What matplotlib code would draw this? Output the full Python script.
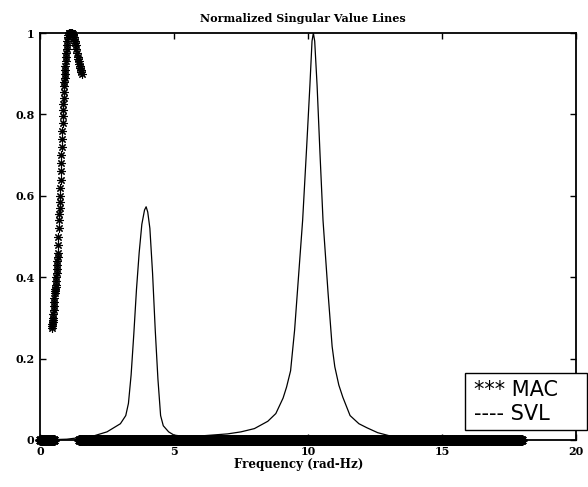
import numpy as np
import matplotlib
matplotlib.use('Agg')
import matplotlib.pyplot as plt

# SVL curve (frequency, normalized value)
svl_freq = [0.0, 1.0, 2.0, 2.5, 3.0, 3.2, 3.3, 3.4, 3.5, 3.6, 3.7, 3.8, 3.9, 3.96,
            4.02, 4.1, 4.2, 4.3, 4.4, 4.5, 4.6, 4.8, 5.0, 5.5, 6.0, 7.0, 7.5, 8.0,
            8.5, 8.8, 9.07, 9.2, 9.35, 9.5, 9.6, 9.8, 9.95, 10.07, 10.15, 10.2,
            10.25, 10.34, 10.45, 10.56, 10.75, 10.9, 11.0, 11.15, 11.3, 11.57,
            11.9, 12.2, 12.6, 13.06, 14.0, 18.0]
svl_val = [0.0, 0.002, 0.01, 0.02, 0.04, 0.06, 0.09, 0.16, 0.26, 0.37, 0.46, 0.53,
           0.565, 0.573, 0.56, 0.52, 0.41, 0.27, 0.15, 0.06, 0.035, 0.02, 0.012,
           0.008, 0.01, 0.015, 0.02, 0.028, 0.046, 0.065, 0.103, 0.13, 0.17, 0.27,
           0.36, 0.54, 0.72, 0.87, 0.98, 1.0, 0.98, 0.87, 0.7, 0.54, 0.36, 0.23,
           0.18, 0.135, 0.105, 0.06, 0.04, 0.03, 0.018, 0.01, 0.003, 0.0]

# MAC values where they are clearly above zero
mac_freq = [0.44, 0.45, 0.46, 0.47, 0.48, 0.49, 0.50, 0.51, 0.52, 0.53, 0.54, 0.55,
            0.56, 0.57, 0.58, 0.59, 0.60, 0.61, 0.62, 0.63, 0.64, 0.65, 0.66, 0.67,
            0.68, 0.69, 0.70, 0.71, 0.72, 0.73, 0.74, 0.75, 0.76, 0.77, 0.78, 0.79,
            0.80, 0.81, 0.82, 0.83, 0.84, 0.85, 0.86, 0.87, 0.88, 0.89, 0.90, 0.91,
            0.92, 0.93, 0.94, 0.95, 0.96, 0.97, 0.98, 0.99, 1.00, 1.02, 1.04, 1.06,
            1.08, 1.10, 1.12, 1.14, 1.16, 1.18, 1.20, 1.22, 1.24, 1.26, 1.28, 1.30,
            1.32, 1.34, 1.36, 1.38, 1.40, 1.42, 1.44, 1.46, 1.48, 1.50, 1.52, 1.54,
            1.56]
mac_val = [0.275, 0.28, 0.285, 0.29, 0.295, 0.30, 0.31, 0.32, 0.33, 0.34, 0.35, 0.36,
           0.365, 0.37, 0.375, 0.38, 0.39, 0.40, 0.41, 0.42, 0.43, 0.44, 0.45, 0.46,
           0.48, 0.50, 0.52, 0.54, 0.555, 0.57, 0.585, 0.60, 0.62, 0.64, 0.66, 0.68,
           0.70, 0.72, 0.74, 0.76, 0.78, 0.795, 0.81, 0.825, 0.84, 0.855, 0.87, 0.88,
           0.89, 0.90, 0.91, 0.92, 0.93, 0.94, 0.95, 0.96, 0.97, 0.98, 0.99, 0.995,
           1.0, 1.0, 1.0, 1.0, 1.0, 1.0, 1.0, 0.998, 0.995, 0.99, 0.985, 0.98,
           0.975, 0.97, 0.96, 0.95, 0.94, 0.935, 0.93, 0.925, 0.92, 0.915, 0.91,
           0.905, 0.90]

# frequency stretches where MAC sits at zero
mac_zero_ranges = [(0.0, 0.55), (1.45, 18.0)]
freq_step = 0.015

xticks = [0, 5, 10, 15, 20]
yticks = [0, 0.2, 0.4, 0.6, 0.8, 1]
ytick_labels = ['0', '0.2', '0.4', '0.6', '0.8', '1']

fig = plt.figure(figsize=(5.88, 4.87), dpi=100)
ax = fig.add_axes([40/588, 1 - 440/487, 536/588, 407/487])

ax.plot(svl_freq, svl_val, color='black', lw=0.9)

asterisk = (8, 2, 0)
for lo, hi in mac_zero_ranges:
    f = np.arange(lo, hi + 1e-9, freq_step)
    ax.plot(f, np.zeros_like(f), ls='none', marker=asterisk, ms=7, mew=1.3,
            color='black', clip_on=False)
ax.plot(mac_freq, mac_val, ls='none', marker=asterisk, ms=6, mew=0.8,
        color='black', clip_on=False)

ax.set_xlim(0, 20)
ax.set_ylim(0, 1)
ax.set_xticks(xticks)
ax.set_yticks(yticks)
ax.set_yticklabels(ytick_labels)
ax.tick_params(direction='in', length=4, width=1, top=True, right=True, pad=4)
for lab in ax.get_xticklabels() + ax.get_yticklabels():
    lab.set_family('DejaVu Serif')
    lab.set_weight('bold')
    lab.set_size(8)
for s in ax.spines.values():
    s.set_linewidth(1.3)

ax.set_title('Normalized Singular Value Lines', family='DejaVu Serif',
             weight='bold', size=8, pad=8, x=0.49)
ax.set_xlabel('Frequency (rad-Hz)', family='DejaVu Serif', weight='bold',
              size=8.6, labelpad=4)
ax.xaxis.set_label_coords(0.483, -0.045)

# legend drawn as a framed text block, like the original
fig.patches.append(plt.Rectangle((465/588, 1 - 430/487), 122/588, 57/487,
                                 transform=fig.transFigure, fc='white',
                                 ec='black', lw=1))
fig.text(474/588, 1 - 390/487, '*** MAC', family='DejaVu Sans', size=15,
         va='center', ha='left')
fig.text(474/588, 1 - 414/487, '---- SVL', family='DejaVu Sans', size=15,
         va='center', ha='left')

fig.savefig('out.png', dpi=100)
